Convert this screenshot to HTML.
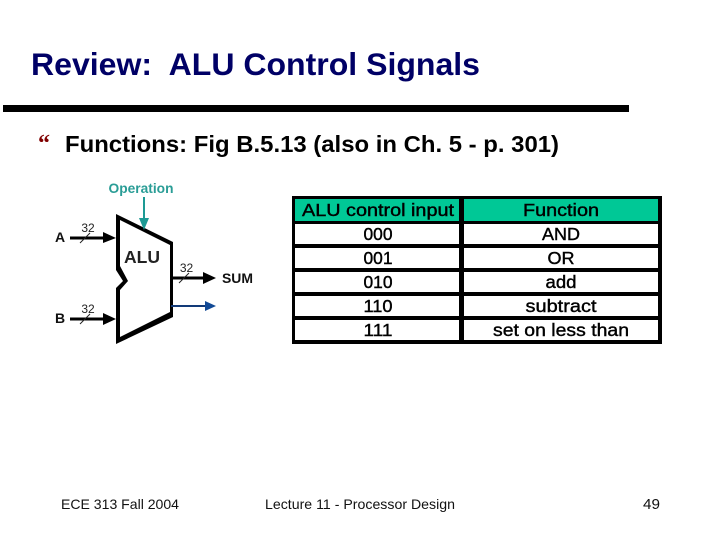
<!DOCTYPE html>
<html>
<head>
<meta charset="utf-8">
<style>
html,body{margin:0;padding:0;background:#fff;}
body{width:720px;height:540px;overflow:hidden;}
svg{display:block;}
text{font-family:"Liberation Sans",Arial,sans-serif;}
</style>
</head>
<body>
<svg width="720" height="540" viewBox="0 0 720 540" xmlns="http://www.w3.org/2000/svg">
<rect width="720" height="540" fill="#fff"/>
<text x="31" y="75" font-size="31.500" font-weight="700" fill="#000066" xml:space="preserve" textLength="449" lengthAdjust="spacingAndGlyphs">Review:  ALU Control Signals</text>
<rect x="3" y="105" width="626" height="7" fill="#000"/>
<text x="38" y="151" font-size="24" font-weight="700" fill="#800000" style="font-family:'Liberation Serif',serif">“</text>
<text x="65" y="152" font-size="23" font-weight="700" fill="#000" textLength="494" lengthAdjust="spacingAndGlyphs">Functions: Fig B.5.13 (also in Ch. 5 - p. 301)</text>

<!-- ALU diagram -->
<text x="141" y="193" font-size="13.500" font-weight="700" fill="#2a9d96" text-anchor="middle" textLength="65" lengthAdjust="spacingAndGlyphs">Operation</text>
<rect x="143" y="197" width="2" height="24" fill="#1d9a94"/>

<polygon points="116,214 173,242 173,317 116,344 116,288 123,281 116,270" fill="#000"/>
<polygon points="120,220 170,245 170,312 120,337 120,290 128,281 120,266" fill="#fff"/>
<polygon points="139,218 149,218 144,230" fill="#1d9a94"/>
<text x="124" y="263" font-size="17.500" font-weight="700" fill="#222">ALU</text>

<text x="55" y="242" font-size="14" font-weight="700" fill="#111">A</text>
<text x="55" y="323" font-size="14" font-weight="700" fill="#111">B</text>
<text x="222" y="283" font-size="13.500" font-weight="700" fill="#111" textLength="31" lengthAdjust="spacingAndGlyphs">SUM</text>

<text x="88" y="232" font-size="12" fill="#222" text-anchor="middle">32</text>
<text x="88" y="313" font-size="12" fill="#222" text-anchor="middle">32</text>
<text x="186.500" y="272" font-size="12" fill="#222" text-anchor="middle">32</text>

<rect x="70" y="236.500" width="38" height="3" fill="#000"/>
<polygon points="103,232 116,238 103,243" fill="#000"/>
<rect x="70" y="317.500" width="38" height="3" fill="#000"/>
<polygon points="103,313 116,319 103,325" fill="#000"/>
<rect x="172" y="276.500" width="35" height="3" fill="#000"/>
<polygon points="203,272 216,278 203,284" fill="#000"/>
<rect x="171" y="305" width="35" height="2" fill="#123a78"/>
<polygon points="205,301 216,306 205,311" fill="#124a96"/>

<line x1="80" y1="243" x2="90" y2="233" stroke="#222" stroke-width="1"/>
<line x1="80" y1="324" x2="90" y2="314" stroke="#222" stroke-width="1"/>
<line x1="179" y1="283" x2="189" y2="273" stroke="#222" stroke-width="1"/>

<!-- Table -->
<rect x="292" y="196" width="370" height="148" fill="#000"/>
<rect x="295" y="199" width="164" height="22" fill="#00c896"/>
<rect x="464" y="199" width="194" height="22" fill="#00c896"/>
<rect x="295" y="224" width="164" height="20" fill="#fff"/>
<rect x="464" y="224" width="194" height="20" fill="#fff"/>
<rect x="295" y="248" width="164" height="20" fill="#fff"/>
<rect x="464" y="248" width="194" height="20" fill="#fff"/>
<rect x="295" y="272" width="164" height="20" fill="#fff"/>
<rect x="464" y="272" width="194" height="20" fill="#fff"/>
<rect x="295" y="296" width="164" height="20" fill="#fff"/>
<rect x="464" y="296" width="194" height="20" fill="#fff"/>
<rect x="295" y="320" width="164" height="20" fill="#fff"/>
<rect x="464" y="320" width="194" height="20" fill="#fff"/>

<g font-size="17.500" fill="#000" text-anchor="middle" stroke="#000" stroke-width="0.400">
<text x="378" y="216" textLength="152" lengthAdjust="spacingAndGlyphs">ALU control input</text>
<text x="378" y="240" textLength="29" lengthAdjust="spacingAndGlyphs">000</text>
<text x="378" y="264" textLength="29" lengthAdjust="spacingAndGlyphs">001</text>
<text x="378" y="288" textLength="29" lengthAdjust="spacingAndGlyphs">010</text>
<text x="378" y="312" textLength="29" lengthAdjust="spacingAndGlyphs">110</text>
<text x="378" y="336" textLength="29" lengthAdjust="spacingAndGlyphs">111</text>
<text x="561" y="216" textLength="76" lengthAdjust="spacingAndGlyphs">Function</text>
<text x="561" y="240" textLength="38" lengthAdjust="spacingAndGlyphs">AND</text>
<text x="561" y="264" textLength="27" lengthAdjust="spacingAndGlyphs">OR</text>
<text x="561" y="288" textLength="31" lengthAdjust="spacingAndGlyphs">add</text>
<text x="561" y="312" textLength="71" lengthAdjust="spacingAndGlyphs">subtract</text>
<text x="561" y="336" textLength="136" lengthAdjust="spacingAndGlyphs">set on less than</text>
</g>

<g font-size="14" fill="#111">
<text x="61" y="509" textLength="118" lengthAdjust="spacingAndGlyphs">ECE 313 Fall 2004</text>
<text x="265" y="509" textLength="190" lengthAdjust="spacingAndGlyphs">Lecture 11 - Processor Design</text>
<text x="643" y="509" font-size="15" textLength="17" lengthAdjust="spacingAndGlyphs">49</text>
</g>
</svg>
</body>
</html>
